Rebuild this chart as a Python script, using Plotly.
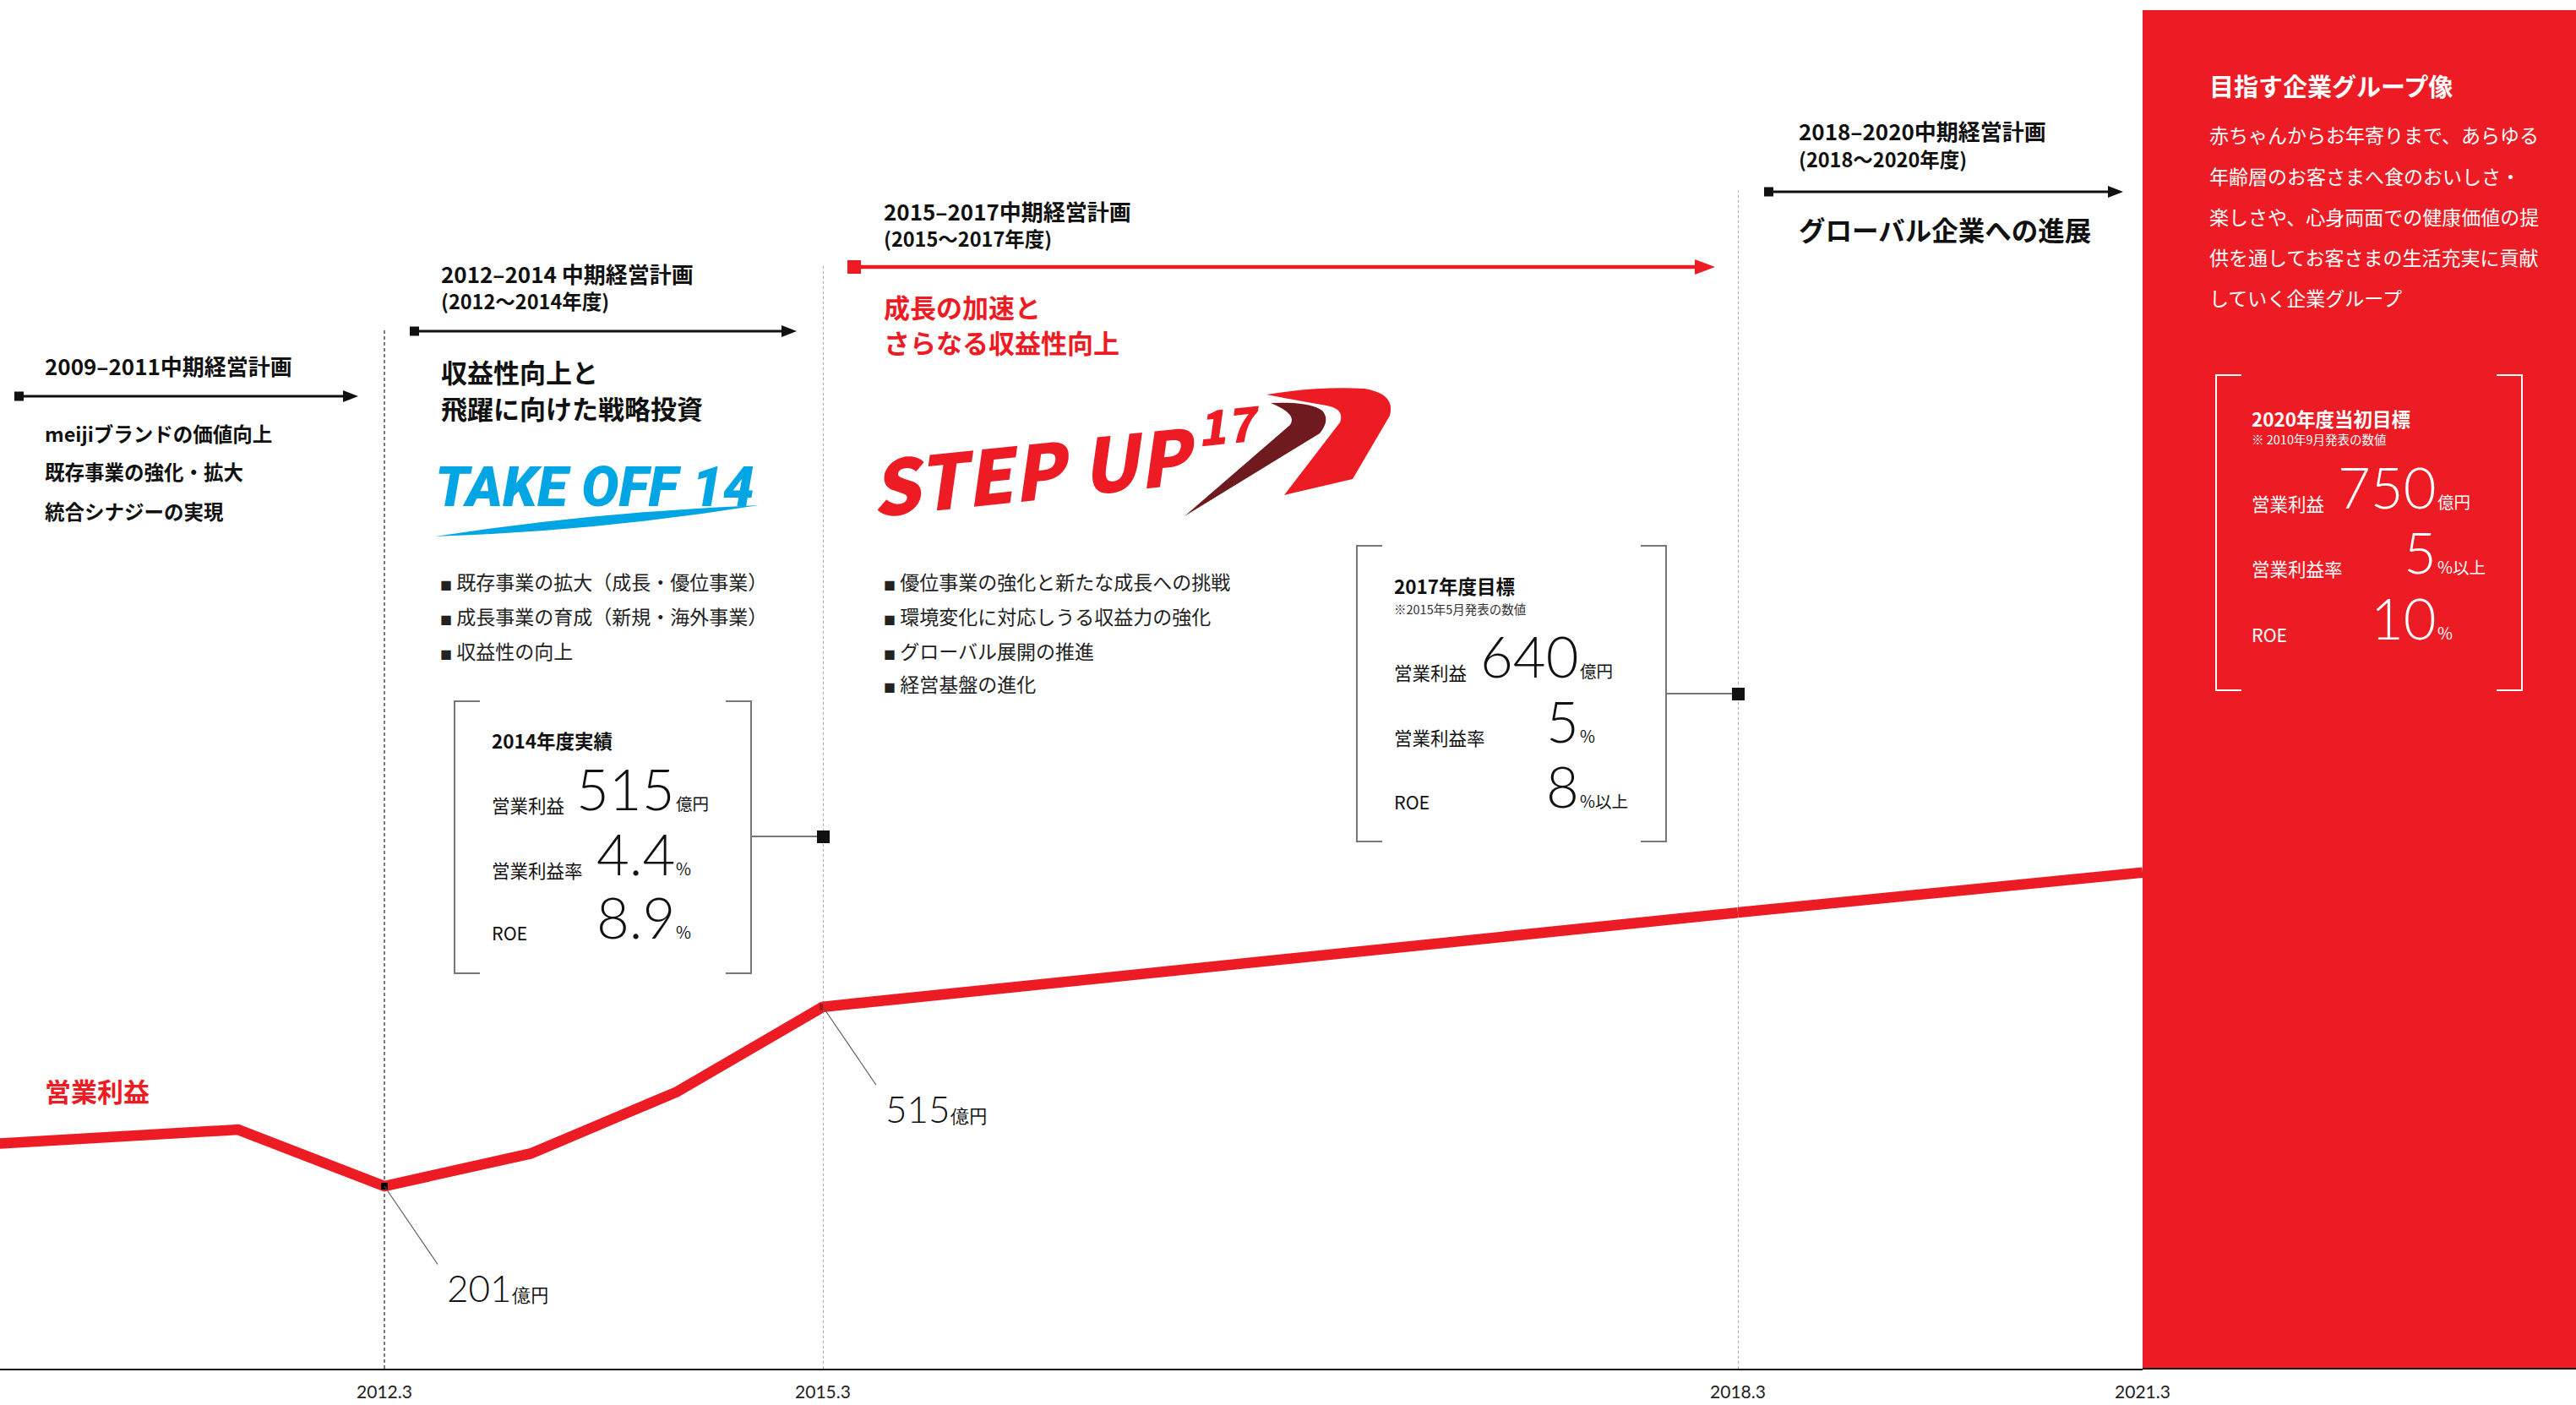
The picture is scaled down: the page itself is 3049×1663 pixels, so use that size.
import plotly.graph_objects as go

W, H = 3049, 1663
BASE_PX = 1620

RED = "#ED1C24"
DARK_RED = "#6E1A1E"
BLUE = "#00A5E3"
INK = "#111111"
GRAY = "#777777"
JP = "Noto Sans CJK JP"
NUM = "Lato"
LW = 12.5

# ---------------- data ----------------
fy_hist = [2009.3, 2010.3, 2011.3, 2012.3, 2013.3, 2014.3, 2015.3]
op_hist = [270, 287, 300, 201, 258, 366, 515]
fy_plan1 = [2015.3, 2018.3]
op_plan1 = [515, 680]
fy_plan2 = [2018.3, 2021.3]
op_plan2 = [680, 750]
callout_fy = [2012.3, 2015.3]
callout_op = [201, 515]
ticks1 = [2012.3]
ticks2 = [2015.3]
ticks3 = [2018.3, 2021.3]

box2014_rows = [("営業利益", "515", "億円"), ("営業利益率", "4.4", "%"), ("ROE", "8.9", "%")]
box2017_rows = [("営業利益", "640", "億円"), ("営業利益率", "5", "%"), ("ROE", "8", "%以上")]
box2020_rows = [("営業利益", "750", "億円"), ("営業利益率", "5", "%以上"), ("ROE", "10", "%")]

bullets_1214 = ["既存事業の拡大（成長・優位事業）", "成長事業の育成（新規・海外事業）", "収益性の向上"]
bullets_1517 = ["優位事業の強化と新たな成長への挑戦", "環境変化に対応しうる収益力の強化",
                "グローバル展開の推進", "経営基盤の進化"]
themes_0911 = ["meijiブランドの価値向上", "既存事業の強化・拡大", "統合シナジーの実現"]
vision_lines = ["赤ちゃんからお年寄りまで、あらゆる", "年齢層のお客さまへ食のおいしさ・",
                "楽しさや、心身両面での健康価値の提", "供を通してお客さまの生活充実に貢献",
                "していく企業グループ"]

# ---------------- helpers ----------------
ann = []
shapes = []


def X(x):
    return x / W


def Y(y):
    return (H - y) / H


def P(x, y):
    return f"{X(x):.6f},{Y(y):.6f}"


def txt(x, y, s, size, color=INK, weight="normal", family=JP, xanchor="left",
        yanchor="middle", style="normal", angle=0):
    ann.append(dict(x=X(x), y=Y(y), xref="paper", yref="paper", text=s, showarrow=False,
                    xanchor=xanchor, yanchor=yanchor, textangle=angle,
                    font=dict(family=family, size=size, color=color, weight=weight, style=style)))


def seg(x0, y0, x1, y1, color, w, dash=None):
    shapes.append(dict(type="line", xref="paper", yref="paper", x0=X(x0), y0=Y(y0),
                       x1=X(x1), y1=Y(y1), line=dict(color=color, width=w, dash=dash),
                       layer="above"))


def rect(x0, y0, x1, y1, fill):
    shapes.append(dict(type="rect", xref="paper", yref="paper", x0=X(x0), y0=Y(y0),
                       x1=X(x1), y1=Y(y1), fillcolor=fill, line=dict(width=0), layer="above"))


def path(d, fill=None, color=None, w=0):
    shapes.append(dict(type="path", xref="paper", yref="paper", path=d,
                       fillcolor=fill if fill else "rgba(0,0,0,0)",
                       line=dict(color=color if color else "rgba(0,0,0,0)", width=w),
                       layer="above"))


def arrow(x0, x1, y, color, lw, sq, hl, hh):
    seg(x0 + sq / 2, y, x1 - hl + 2, y, color, lw)
    path(f"M{P(x1 - hl, y - hh)} L{P(x1, y)} L{P(x1 - hl, y + hh)} Z", fill=color)
    rect(x0, y - sq / 2, x0 + sq, y + sq / 2, color)


def bracket(x0, x1, y0, y1, color, w=2, t=30):
    path(f"M{P(x0 + t, y0)} L{P(x0, y0)} L{P(x0, y1)} L{P(x0 + t, y1)}", color=color, w=w)
    path(f"M{P(x1 - t, y0)} L{P(x1, y0)} L{P(x1, y1)} L{P(x1 - t, y1)}", color=color, w=w)


def num_rows(rows, xl, xr, bases, color, nsize=67, usize=19.5, lsize=21.5):
    for (lab, val, unit), b in zip(rows, bases):
        txt(xl, b - 8, lab, lsize, color=color)
        ann.append(dict(x=X(xr + 4), y=Y(b + 0.213 * nsize + 1), xref="paper", yref="paper",
                        text=val, showarrow=False, xanchor="right", yanchor="bottom",
                        font=dict(family=NUM, size=nsize, color=color, weight=300)))
        ann.append(dict(x=X(xr + 1), y=Y(b + 0.288 * usize + 1), xref="paper", yref="paper",
                        text=unit, showarrow=False, xanchor="left", yanchor="bottom",
                        font=dict(family=JP, size=usize, color=color)))


HDR = 26
SUB = 23.5
BIG = 31
BUL = 23

# ---------------- 2009-2011 ----------------
txt(51, 432, "2009–2011中期経営計画", HDR, weight="bold")
arrow(17, 424, 469, INK, 3, 11, 18, 7)
for t, yy in zip(themes_0911, [513, 558, 605]):
    txt(51, yy, t, 23.5, weight="bold")

# ---------------- 2012-2014 ----------------
txt(520, 323, "2012–2014 中期経営計画", HDR, weight="bold")
txt(520, 356, "(2012～2014年度)", SUB, weight="bold")
arrow(485, 943, 392, INK, 3, 11, 18, 7)
txt(520, 439, "収益性向上と", BIG, weight="bold")
txt(520, 482, "飛躍に向けた戦略投資", BIG, weight="bold")
txt(704, 576, "TAKE OFF 14", 66, color=BLUE, weight=900, family="Roboto", xanchor="center",
    style="italic")
path(f"M{P(515, 635)} Q{P(705, 606)} {P(898, 598)} Q{P(705, 629)} {P(515, 635)} Z", fill=BLUE)
for b, yy in zip(bullets_1214, [688, 729, 770]):
    txt(519, yy, f"<span style='font-size:14px'>■</span> {b}", BUL, color="#222")

bracket(538, 889, 830, 1152, GRAY)
txt(580, 876, "2014年度実績", 22.5, weight="bold")
num_rows(box2014_rows, 580, 797, [960, 1037, 1112], INK)
seg(889, 990, 974, 990, GRAY, 2)
rect(967, 983, 982, 998, INK)

# ---------------- 2015-2017 ----------------
txt(1044, 249, "2015–2017中期経営計画", HDR, weight="bold")
txt(1044, 282, "(2015～2017年度)", SUB, weight="bold")
arrow(1003, 2030, 316, RED, 4.5, 16, 24, 9)
txt(1044, 362, "成長の加速と", BIG, color=RED, weight="bold")
txt(1044, 404, "さらなる収益性向上", BIG, color=RED, weight="bold")
# STEP UP 17 logo
path(f"M{P(1499, 467)} Q{P(1560, 457)} {P(1615, 460)} Q{P(1652, 466)} {P(1645, 492)} "
     f"L{P(1601, 567)} L{P(1520, 586)} L{P(1586, 500)} Q{P(1592, 484)} {P(1570, 480)} "
     f"Q{P(1535, 474)} {P(1499, 467)} Z", fill=RED)
path(f"M{P(1504, 477)} Q{P(1550, 475)} {P(1565, 486)} Q{P(1575, 497)} {P(1562, 513)} "
     f"L{P(1402, 611)} L{P(1527, 503)} Q{P(1536, 490)} {P(1504, 477)} Z", fill=DARK_RED)
txt(1224, 554, "STEP UP", 89, color=RED, weight=900, family=JP,
    xanchor="center", style="italic", angle=-6)
txt(1454, 500, "17", 56, color=RED, weight=900, family=JP,
    xanchor="center", style="italic", angle=-6)
for b, yy in zip(bullets_1517, [688, 729, 770, 809]):
    txt(1044, yy, f"<span style='font-size:14px'>■</span> {b}", BUL, color="#222")

bracket(1606, 1972, 646, 996, GRAY)
txt(1648, 693, "2017年度目標", 22.5, weight="bold")
txt(1648, 720, "※2015年5月発表の数値", 14.5, color="#333")
num_rows(box2017_rows, 1648, 1867, [803, 880, 957], INK)
seg(1972, 821, 2057, 821, GRAY, 2)
rect(2050, 814, 2065, 829, INK)

# ---------------- 2018-2020 ----------------
txt(2127, 155, "2018–2020中期経営計画", HDR, weight="bold")
txt(2127, 188, "(2018～2020年度)", SUB, weight="bold")
arrow(2088, 2513, 227, INK, 3, 11, 18, 7)
txt(2127, 271, "グローバル企業への進展", 31.5, weight="bold")

# ---------------- red panel ----------------
rect(2536, 12, W, BASE_PX, RED)
seg(2536, BASE_PX, W, BASE_PX, INK, 2)
txt(2613, 101, "目指す企業グループ像", 29, color="white", weight="bold")
for line, yy in zip(vision_lines, [159, 208, 256, 304, 352]):
    txt(2613, yy, line, 23, color="white")
bracket(2623, 2985, 444, 817, "white", w=2)
txt(2663, 495, "2020年度当初目標", 22.5, color="white", weight="bold")
txt(2663, 520, "※ 2010年9月発表の数値", 14.5, color="white")
num_rows(box2020_rows, 2663, 2882, [603, 680, 758], "white")

# ---------------- series label ----------------
txt(51, 1290, "営業利益", 31, color=RED, weight="bold")

# ---------------- vertical guides ----------------
for ref, v, top, dash, col in [("x", ticks1[0], 391, "4px,3px", "#444"),
                               ("x2", ticks2[0], 312, "dot", "#888"),
                               ("x3", ticks3[0], 226, "dot", "#888")]:
    shapes.append(dict(type="line", xref=ref, yref="paper", x0=v, x1=v,
                       y0=Y(BASE_PX), y1=Y(top), line=dict(color=col, width=1.4, dash=dash),
                       layer="below"))

# ---------------- callouts ----------------
for fy, op in zip(callout_fy, callout_op):
    ann.append(dict(x=fy, y=op, xref="x", yref="y", ax=64, ay=94, axref="pixel",
                    ayref="pixel", text="", showarrow=True, arrowhead=0, arrowwidth=1.1,
                    arrowcolor="#555", standoff=0))
    ann.append(dict(x=fy, y=op, xref="x", yref="y", text=f"{op}<span style='font-size:22px'>億円</span>",
                    showarrow=False, xanchor="left", yanchor="bottom", xshift=72, yshift=-148,
                    font=dict(family=NUM, size=44, color=INK, weight=300)))

# ---------------- traces ----------------
fig = go.Figure()
fig.add_trace(go.Scatter(x=fy_hist, y=op_hist, xaxis="x", yaxis="y", mode="lines+markers",
                         line=dict(color=RED, width=LW),
                         marker=dict(size=[0] * (len(fy_hist) - 1) + [LW], color=RED,
                                     line=dict(width=0)),
                         cliponaxis=False, hoverinfo="skip"))
fig.add_trace(go.Scatter(x=fy_plan1, y=op_plan1, xaxis="x2", yaxis="y", mode="lines+markers",
                         line=dict(color=RED, width=LW),
                         marker=dict(size=[LW] + [0] * (len(fy_plan1) - 1), color=RED,
                                     line=dict(width=0)),
                         cliponaxis=False, hoverinfo="skip"))
fig.add_trace(go.Scatter(x=fy_plan2, y=op_plan2, xaxis="x3", yaxis="y", mode="lines",
                         line=dict(color=RED, width=LW), hoverinfo="skip"))
fig.add_trace(go.Scatter(x=callout_fy, y=callout_op, xaxis="x", yaxis="y", mode="markers",
                         marker=dict(symbol="square", size=8, color="black"),
                         cliponaxis=False, hoverinfo="skip"))

common = dict(showgrid=False, zeroline=False, showline=True, linecolor=INK, linewidth=2,
              ticks="outside", ticklen=8, tickcolor="rgba(0,0,0,0)",
              tickfont=dict(family=NUM, size=21, color="#222"), anchor="y", fixedrange=True)
fig.update_layout(
    width=W, height=H, autosize=False, template="none",
    margin=dict(l=0, r=0, t=0, b=0),
    paper_bgcolor="white", plot_bgcolor="white", showlegend=False,
    xaxis=dict(domain=[0, 974 / W], range=[2009.67, 2015.3], tickvals=ticks1,
               ticktext=[f"{t:.1f}" for t in ticks1], **common),
    xaxis2=dict(domain=[974 / W, 2057 / W], range=[2015.3, 2018.3], tickvals=ticks2,
                ticktext=[f"{t:.1f}" for t in ticks2], **common),
    xaxis3=dict(domain=[2057 / W, 2536 / W], range=[2018.3, 2021.3], tickvals=ticks3,
                ticktext=[f"{t:.1f}" for t in ticks3], **common),
    yaxis=dict(domain=[(H - BASE_PX) / H, 1], range=[-118.5, 2277.6], visible=False,
               fixedrange=True, anchor="x"),
    shapes=shapes, annotations=ann,
)
fig.write_html("out.html", include_plotlyjs=True, config={"displayModeBar": False})
